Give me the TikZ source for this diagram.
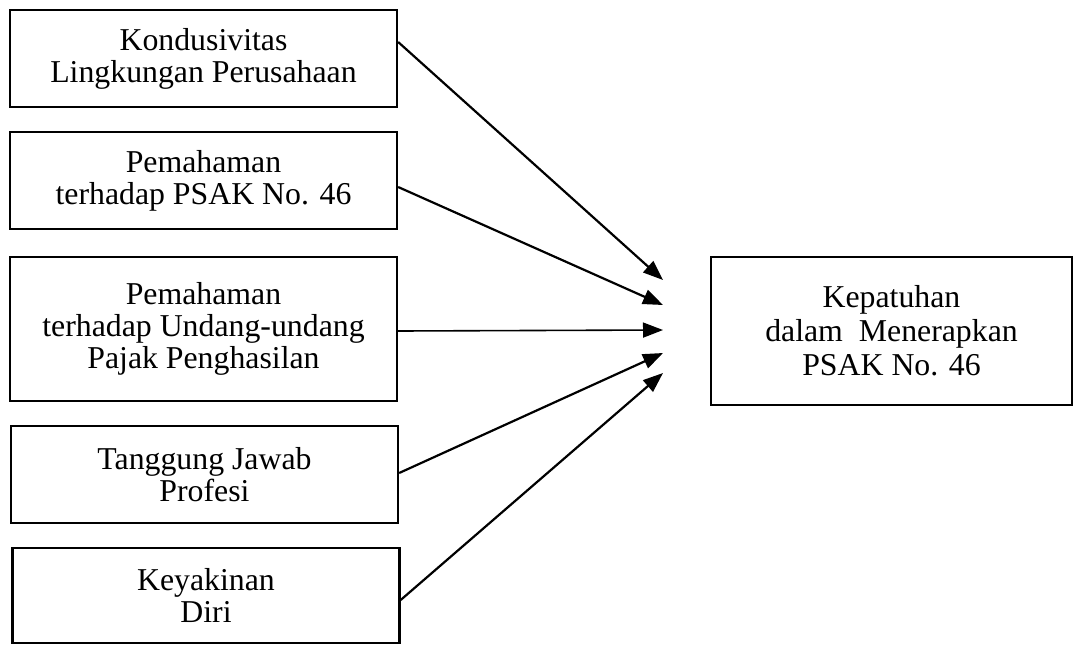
\documentclass[tikz,border=0pt]{standalone}
\usepackage{fontspec}
\setmainfont{Liberation Serif}
\usetikzlibrary{arrows.meta}
\begin{document}
\begin{tikzpicture}[x=1pt,y=-1pt,
  box/.style={draw=black, line width=2.3pt, minimum width=387pt, inner sep=0pt,
    align=center, font=\fontsize{31.8}{31.8}\selectfont},
  conn/.style={line width=2.2pt, -{Triangle[length=20pt,width=15pt]}},
]
\useasboundingbox (0,0) rectangle (1075,646);
\node[box, minimum height=97pt] (b1) at (203.5,58.5) {Kondusivitas\\Lingkungan Perusahaan};
\node[box, minimum height=97pt] (b2) at (203.5,180.5) {Pemahaman\\terhadap PSAK No. 46};
\node[box, minimum height=144pt] (b3) at (203.5,329) {Pemahaman\\terhadap Undang-undang\\Pajak Penghasilan};
\node[box, minimum height=97pt] (b4) at (204.5,474.5) {Tanggung Jawab\\Profesi};
\node[box, minimum height=95pt] (b5) at (206,595.5) {Keyakinan\\Diri};
\node[box, minimum width=361pt, minimum height=148pt, font=\fontsize{31.8}{34}\selectfont] (r) at (891.5,331) {Kepatuhan\\dalam\ \ Menerapkan\\PSAK No. 46};
\coordinate (t1) at (663,280);
\coordinate (t2) at (663,305);
\coordinate (t3) at (663,330);
\coordinate (t4) at (663,353);
\coordinate (t5) at (663,373);
\draw[conn] ([yshift=16.5pt]b1.east) -- (t1);
\draw[conn] ([yshift=-6.5pt]b2.east) -- (t2);
\draw[conn, line width=1.6pt] ([yshift=-2pt]b3.east) -- (t3);
\draw[conn] ([yshift=1.5pt]b4.east) -- (t4);
\draw[conn] ([yshift=-4.5pt]b5.east) -- (t5);
\end{tikzpicture}
\end{document}
